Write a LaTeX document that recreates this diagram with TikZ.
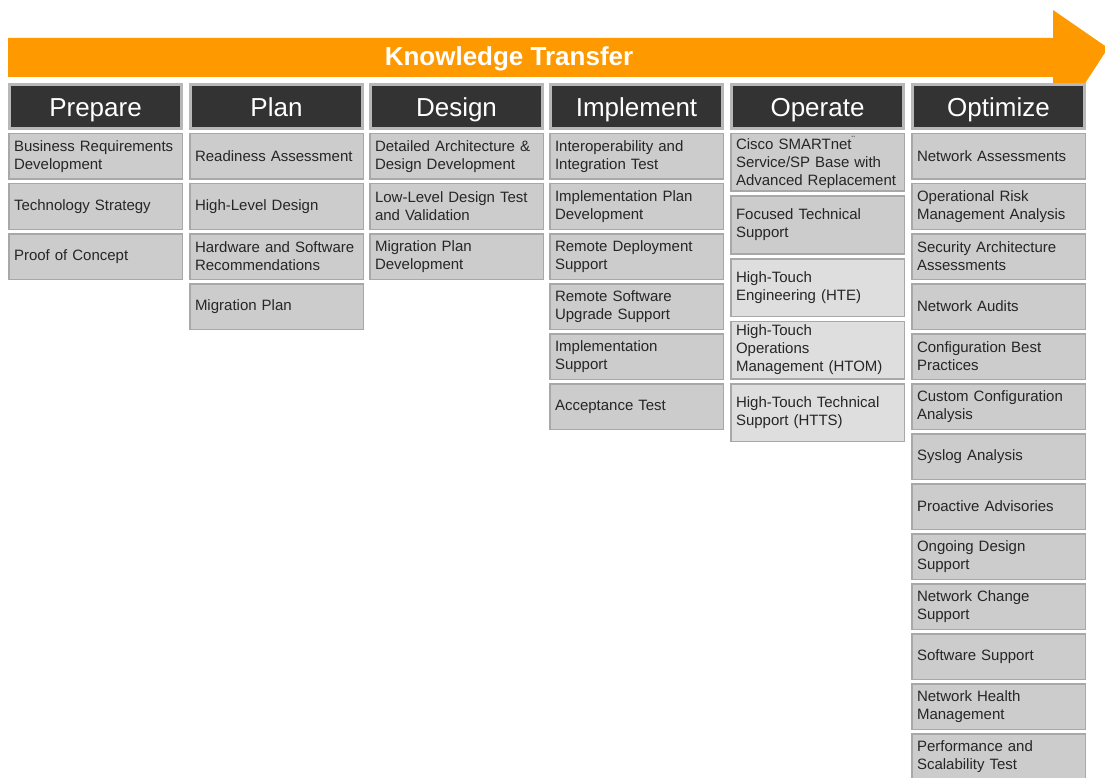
\documentclass[tikz,border=0pt]{standalone}
\usepackage{fontspec}
\setmainfont{Liberation Sans}
\usetikzlibrary{positioning}

\definecolor{ktorange}{HTML}{FF9900}
\definecolor{headdark}{HTML}{333333}
\definecolor{headedge}{HTML}{B8B8B8}
\definecolor{itemgray}{HTML}{CCCCCC}
\definecolor{itemlight}{HTML}{DEDEDE}
\definecolor{itemedge}{HTML}{A8A8A8}

\begin{document}
\begin{tikzpicture}[x=1pt, y=-1pt,
	head/.style={draw=headedge, line width=3pt, fill=headdark, text=white, minimum width=172pt, minimum height=44pt, text height=23pt, text depth=2pt, anchor=north west, font=\fontsize{26}{30}\selectfont},
	item/.style={draw=itemedge, line width=1.5pt, fill=itemgray, text=black!85, text width=163pt, inner xsep=5.25pt, inner ysep=1pt, minimum height=45.5pt, align=left, font=\fontsize{15}{18}\selectfont},
	tall/.style={item, minimum height=57.5pt},
	lite/.style={tall, fill=itemlight}]
	\path[use as bounding box, clip] (0, 0) rectangle (1105, 778);

	\fill[ktorange] (8, 38) -- (1053, 38) -- (1053, 10) -- (1108, 48) -- (1082, 88) -- (1053, 88) -- (1053, 77) -- (8, 77) -- cycle;
	\node[text=white, text height=19pt, text depth=2pt, font=\bfseries\fontsize{26}{30}\selectfont] (kt) at (509, 57.5) {Knowledge Transfer};

	\node[head] (pre) at (8, 83) {Prepare};
	\node[head] (plan) at (189, 83) {Plan};
	\node[head] (des) at (369, 83) {Design};
	\node[head] (imp) at (549, 83) {Implement};
	\node[head] (op) at (730, 83) {Operate};
	\node[head] (opt) at (911, 83) {Optimize};

	\node[item, below=3pt of pre] (pre1) {Business Requirements\\Development};
	\node[item, below=3pt of pre1] (pre2) {Technology Strategy};
	\node[item, below=3pt of pre2] (pre3) {Proof of Concept};

	\node[item, below=3pt of plan] (plan1) {Readiness Assessment};
	\node[item, below=3pt of plan1] (plan2) {High-Level Design};
	\node[item, below=3pt of plan2] (plan3) {Hardware and Software\\Recommendations};
	\node[item, below=3pt of plan3] (plan4) {Migration Plan};

	\node[item, below=3pt of des] (des1) {Detailed Architecture \&\\Design Development};
	\node[item, below=3pt of des1] (des2) {Low-Level Design Test\\and Validation};
	\node[item, below=3pt of des2] (des3) {Migration Plan\\Development};

	\node[item, below=3pt of imp] (imp1) {Interoperability and\\Integration Test};
	\node[item, below=3pt of imp1] (imp2) {Implementation Plan\\Development};
	\node[item, below=3pt of imp2] (imp3) {Remote Deployment\\Support};
	\node[item, below=3pt of imp3] (imp4) {Remote Software\\Upgrade Support};
	\node[item, below=3pt of imp4] (imp5) {Implementation\\Support};
	\node[item, below=3pt of imp5] (imp6) {Acceptance Test\\[10pt]};

	\node[tall, below=3pt of op] (op1) {Cisco SMARTnet\textsuperscript{¨}\\Service/SP Base with\\Advanced Replacement};
	\node[tall, below=3.5pt of op1] (op2) {Focused Technical\\Support};
	\node[lite, below=3.5pt of op2] (op3) {High-Touch\\Engineering (HTE)\\[10pt]};
	\node[lite, below=3.5pt of op3] (op4) {High-Touch\\Operations\\Management (HTOM)};
	\node[lite, below=3.5pt of op4] (op5) {High-Touch Technical\\Support (HTTS)};

	\node[item, below=3pt of opt] (opt1) {Network Assessments};
	\node[item, below=3pt of opt1] (opt2) {Operational Risk\\Management Analysis};
	\node[item, below=3pt of opt2] (opt3) {Security Architecture\\Assessments};
	\node[item, below=3pt of opt3] (opt4) {Network Audits};
	\node[item, below=3pt of opt4] (opt5) {Configuration Best\\Practices};
	\node[item, below=3pt of opt5] (opt6) {Custom Configuration\\Analysis};
	\node[item, below=3pt of opt6] (opt7) {Syslog Analysis};
	\node[item, below=3pt of opt7] (opt8) {Proactive Advisories};
	\node[item, below=3pt of opt8] (opt9) {Ongoing Design\\Support};
	\node[item, below=3pt of opt9] (opt10) {Network Change\\Support};
	\node[item, below=3pt of opt10] (opt11) {Software Support};
	\node[item, below=3pt of opt11] (opt12) {Network Health\\Management};
	\node[item, below=3pt of opt12] (opt13) {Performance and\\Scalability Test};
\end{tikzpicture}
\end{document}
